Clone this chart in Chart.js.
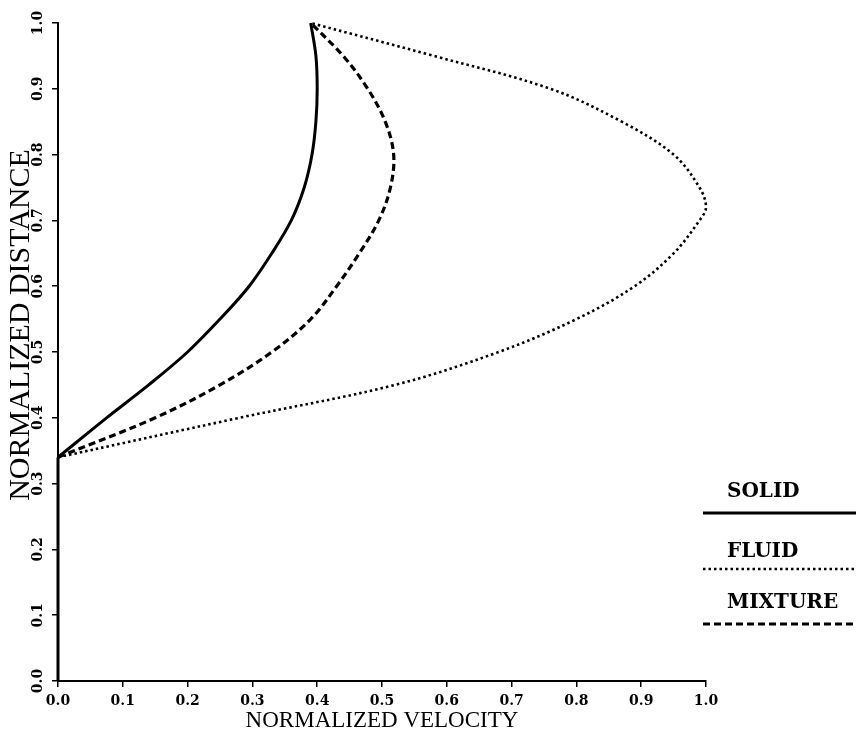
<!DOCTYPE html>
<html>
<head>
<meta charset="utf-8">
<title>Velocity profiles</title>
<script src="https://cdn.jsdelivr.net/npm/chart.js@4.4.1/dist/chart.umd.min.js"></script>
<style>
    html, body { margin: 0; padding: 0; background: #fff; }
    #wrap { width: 856px; height: 740px; }
</style>
</head>
<body>
<div id="wrap"><canvas id="profileChart" width="856" height="740"></canvas></div>
<script>
// distance rows used for the solid and mixture profiles
const distance = [0.34, 0.40, 0.45, 0.50, 0.55, 0.60, 0.65, 0.70, 0.75, 0.80, 0.85, 0.90, 0.95, 1.00];
const solidVelocity = [0, 0.075, 0.14, 0.20, 0.25, 0.295, 0.33, 0.36, 0.38, 0.392, 0.398, 0.40, 0.398, 0.39];
const mixtureVelocity = [0, 0.15, 0.25, 0.33, 0.39, 0.43, 0.465, 0.495, 0.513, 0.518, 0.505, 0.478, 0.44, 0.39];

// fluid profile peaks between the regular rows, so it keeps its own distances
const fluidDistance = [0.34, 0.40, 0.45, 0.50, 0.55, 0.60, 0.65, 0.70, 0.72, 0.75, 0.80, 0.85, 0.90, 0.95, 1.00];
const fluidVelocity = [0, 0.28, 0.52, 0.68, 0.80, 0.89, 0.95, 0.99, 1.00, 0.99, 0.95, 0.87, 0.76, 0.58, 0.39];

// below the layer every phase is at rest along the wall
const coreDistance = [0, 0.34];
const coreVelocity = [0, 0];

const velocityTicks = [0, 0.1, 0.2, 0.3, 0.4, 0.5, 0.6, 0.7, 0.8, 0.9, 1.0];
const distanceTicks = [0, 0.1, 0.2, 0.3, 0.4, 0.5, 0.6, 0.7, 0.8, 0.9, 1.0];

const seriesNames = ['SOLID', 'FLUID', 'MIXTURE'];

function toPoints(xs, ys) {
    return xs.map((x, i) => ({ x: x, y: ys[i] }));
}

const tickFont = { family: 'DejaVu Serif', size: 14, weight: 'bold' };
const titleFont = { family: 'Liberation Serif', size: 23 };

// legend sits at the lower right, label above its line sample
const legendBox = { lineLeft: 703, lineRight: 856, textLeft: 727, rows: [{ text: 492, line: 513 }, { text: 552, line: 569 }, { text: 603, line: 624 }] };

const sideLegend = {
    id: 'sideLegend',
    afterDraw(chart) {
        const ctx = chart.ctx;
        ctx.save();
        // vertical axis title, set larger than the horizontal one
        ctx.translate(21, 325);
        ctx.rotate(-Math.PI / 2);
        ctx.font = '30px "Liberation Serif"';
        ctx.fillStyle = '#000';
        ctx.textAlign = 'center';
        ctx.textBaseline = 'middle';
        ctx.fillText('NORMALIZED DISTANCE', 0, 0);
        ctx.restore();

        let row = 0;
        chart.data.datasets.forEach(ds => {
            if (!ds.label) return;
            const r = legendBox.rows[row++];
            ctx.save();
            ctx.font = 'bold 20px "DejaVu Serif"';
            ctx.fillStyle = '#000';
            ctx.textBaseline = 'middle';
            ctx.textAlign = 'left';
            ctx.fillText(ds.label, legendBox.textLeft, r.text);
            ctx.strokeStyle = ds.borderColor;
            ctx.lineWidth = ds.borderWidth;
            ctx.setLineDash(ds.borderDash || []);
            ctx.beginPath();
            ctx.moveTo(legendBox.lineLeft, r.line);
            ctx.lineTo(legendBox.lineRight, r.line);
            ctx.stroke();
            ctx.restore();
        });
    }
};

const ctx = document.getElementById('profileChart').getContext('2d');

new Chart(ctx, {
    type: 'scatter',
    data: {
        datasets: [
            {
                data: toPoints(coreVelocity, coreDistance),
                borderColor: '#000',
                borderWidth: 3,
                tension: 0
            },
            {
                label: seriesNames[0],
                data: toPoints(solidVelocity, distance),
                borderColor: '#000',
                borderWidth: 3,
                tension: 0.35
            },
            {
                label: seriesNames[1],
                data: toPoints(fluidVelocity, fluidDistance),
                borderColor: '#000',
                borderWidth: 2.6,
                borderDash: [2.5, 3],
                tension: 0.35
            },
            {
                label: seriesNames[2],
                data: toPoints(mixtureVelocity, distance),
                borderColor: '#000',
                borderWidth: 3.2,
                borderDash: [7, 4],
                tension: 0.35
            }
        ]
    },
    options: {
        responsive: false,
        animation: false,
        devicePixelRatio: 1,
        showLine: true,
        elements: {
            point: { radius: 0, hoverRadius: 0 },
            line: { borderCapStyle: 'butt', fill: false }
        },
        datasets: { scatter: { clip: 4 } },
        layout: { padding: { top: 23, right: 150, bottom: 0, left: 0 } },
        plugins: {
            legend: { display: false },
            tooltip: { enabled: false }
        },
        scales: {
            x: {
                type: 'linear',
                min: 0,
                max: 1,
                afterBuildTicks: axis => { axis.ticks = velocityTicks.map(v => ({ value: v })); },
                afterFit: axis => { axis.height = 59; },
                grid: { drawOnChartArea: false, drawTicks: true, tickLength: 6, color: '#000', lineWidth: 1.5 },
                border: { display: true, color: '#000', width: 2 },
                ticks: {
                    font: tickFont,
                    color: '#000',
                    padding: 6,
                    autoSkip: false,
                    maxRotation: 0,
                    callback: v => v.toFixed(1)
                },
                title: {
                    display: true,
                    text: 'NORMALIZED VELOCITY',
                    font: titleFont,
                    color: '#000',
                    padding: { top: 0, bottom: 5 }
                }
            },
            y: {
                type: 'linear',
                min: 0,
                max: 1,
                afterBuildTicks: axis => { axis.ticks = distanceTicks.map(v => ({ value: v })); },
                afterFit: axis => { axis.width = 58; },
                grid: { drawOnChartArea: false, drawTicks: true, tickLength: 6, color: '#000', lineWidth: 1.5 },
                border: { display: true, color: '#000', width: 2 },
                ticks: {
                    font: tickFont,
                    color: '#000',
                    padding: 1,
                    autoSkip: false,
                    minRotation: 90,
                    maxRotation: 90,
                    crossAlign: 'center',
                    callback: v => v.toFixed(1)
                }
            }
        }
    },
    plugins: [sideLegend]
});
</script>
</body>
</html>
